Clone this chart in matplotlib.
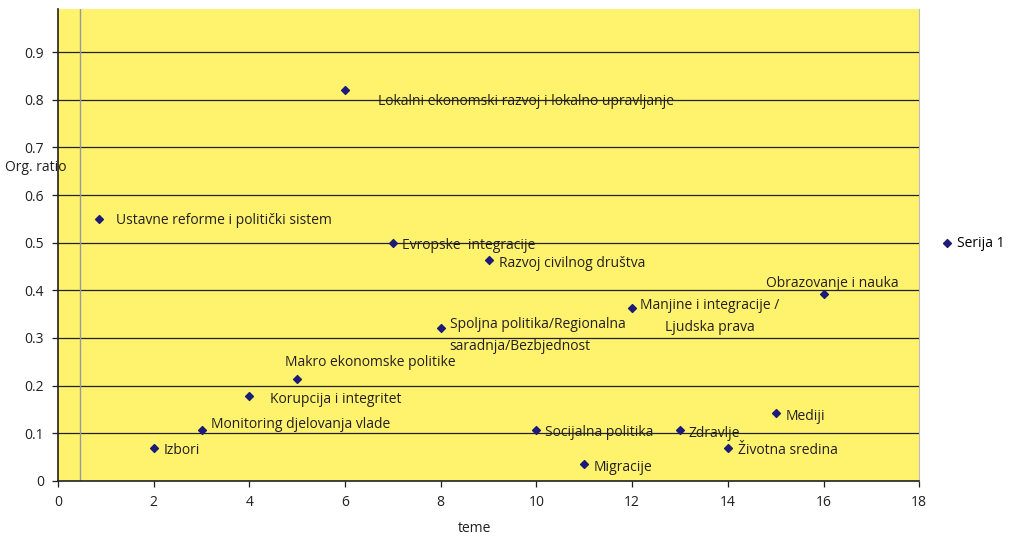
import numpy as np
import matplotlib.pyplot as plt

plt.rcParams['font.family'] = ['Open Sans', 'DejaVu Sans']

# data
x = [0.85, 2, 3, 4, 5, 6, 7, 8, 9, 10, 11, 12, 13, 14, 15, 16]
ratio = [0.55, 0.07, 0.107, 0.178, 0.213, 0.82, 0.50, 0.32, 0.463,
         0.107, 0.035, 0.362, 0.107, 0.07, 0.142, 0.392]
labels = ['Ustavne reforme i politički sistem', 'Izbori',
          'Monitoring djelovanja vlade', 'Korupcija i integritet',
          'Makro ekonomske politike',
          'Lokalni ekonomski razvoj i lokalno upravljanje',
          'Evropske  integracije',
          'Spoljna politika/Regionalna\nsaradnja/Bezbjednost',
          'Razvoj civilnog društva', 'Socijalna politika', 'Migracije',
          'Manjine i integracije /\nLjudska prava', 'Zdravlje',
          'Životna sredina', 'Mediji', 'Obrazovanje i nauka']

# label placement (offset in pixels, horizontal alignment)
offsets = [(17, -2, 'left'), (10, -3, 'left'), (9, 5, 'left'), (21, -3, 'left'),
           (-12, 17, 'left'), (33, -11, 'left'), (9, -3, 'left'), (9, -7, 'left'),
           (10, -3, 'left'), (9, -3, 'left'), (9, -3, 'left'), (8, -8, 'left'),
           (9, -4, 'left'), (10, -3, 'left'), (10, -3, 'left'), (9, 11, 'center')]

fig = plt.figure(figsize=(10.12, 5.38), dpi=100)
ax = fig.add_axes([0.0573, 0.106, 0.851, 0.877])
ax.set_facecolor('#fff36d')

for yv in np.arange(0.1, 1.0, 0.1):
    ax.axhline(yv, color='#222222', lw=0.9, zorder=1)
ax.axvline(0.45, color='#999999', lw=1, zorder=1)

ax.scatter(x, ratio, marker='D', s=16, color='#1c1c78', zorder=3, label='Serija 1')

for xi, yi, lbl, (dx, dy, ha) in zip(x, ratio, labels, offsets):
    ma = 'center' if lbl.startswith('Manjine') else 'left'
    ax.annotate(lbl, (xi, yi), xytext=(dx, dy), textcoords='offset pixels',
                ha=ha, va='center', fontsize=10, color='#231f20',
                linespacing=1.6, multialignment=ma, zorder=4)

ax.set_xlim(0, 18)
ax.set_ylim(0, 0.99)
ax.set_xticks(range(0, 19, 2))
ax.set_yticks(np.arange(0, 0.95, 0.1))
ax.set_yticklabels(['0'] + ['%.1f' % v for v in np.arange(0.1, 0.95, 0.1)])
ax.tick_params(labelsize=10, colors='#231f20', length=4, width=0.9, pad=6)

for s in ['left', 'bottom']:
    ax.spines[s].set_color('#231f20')
    ax.spines[s].set_linewidth(1.2)
ax.spines['top'].set_visible(False)
ax.spines['right'].set_color('#bbbbbb')
ax.spines['right'].set_linewidth(0.8)

fig.text(0.469, 0.018, 'teme', ha='center', va='center', fontsize=10, color='#231f20')
fig.text(0.005, 0.688, 'Org. ratio', ha='left', va='center', fontsize=10, color='#231f20')

fig.legend(loc='center left', bbox_to_anchor=(0.917, 0.548), frameon=False,
           fontsize=10, handletextpad=0.2, handlelength=1.0, markerscale=1.0)

fig.savefig('out.png', dpi=100)
